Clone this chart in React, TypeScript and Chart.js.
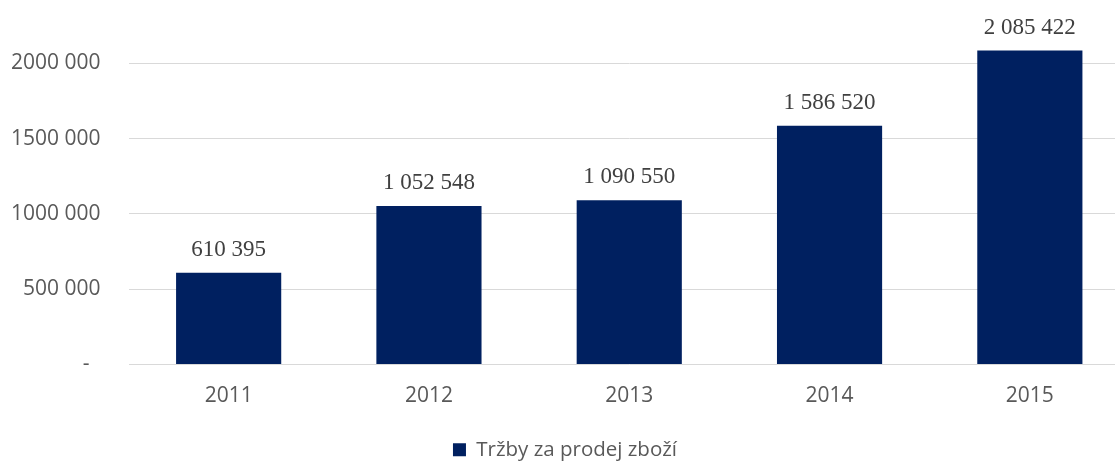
import { useEffect, useRef } from 'react';
import { Chart, registerables } from 'chart.js';

Chart.register(...registerables);

const categories = ['2011', '2012', '2013', '2014', '2015'];
const seriesName = 'Tržby za prodej zboží';
const salesValues = [610395, 1052548, 1090550, 1586520, 2085422];
const yTickValues = [0, 500000, 1000000, 1500000, 2000000];
const yTickLabels = ['-  ', '500 000', '1000 000', '1500 000', '2000 000'];

const fmt = (v: number) => String(v).replace(/\B(?=(\d{3})+(?!\d))/g, ' ');

const valueLabelsPlugin = {
  id: 'valueLabels',
  afterDatasetsDraw(chart: any) {
    const ctx = chart.ctx;
    const meta = chart.getDatasetMeta(0);
    ctx.save();
    ctx.font = '23px "Liberation Serif", "Times New Roman", serif';
    ctx.fillStyle = '#404040';
    ctx.textAlign = 'center';
    ctx.textBaseline = 'alphabetic';
    meta.data.forEach((bar: any, i: number) => {
      ctx.fillText(fmt(salesValues[i]), bar.x, bar.y - 17);
    });
    ctx.restore();
  },
};

export default function App() {
  const ref = useRef<HTMLCanvasElement | null>(null);
  useEffect(() => {
    if (!ref.current) return;
    const chart = new Chart(ref.current, {
      type: 'bar',
      data: {
        labels: categories,
        datasets: [
          {
            label: seriesName,
            data: salesValues,
            backgroundColor: '#002060',
            borderWidth: 0,
            categoryPercentage: 1,
            barPercentage: 0.525,
          },
        ],
      },
      options: {
        responsive: false,
        animation: false,
        devicePixelRatio: 1,
        layout: { padding: { top: 0, left: 0, right: 0, bottom: 0 } },
        plugins: {
          tooltip: { enabled: false },
          legend: {
            position: 'bottom',
            labels: {
              font: { family: '"Open Sans", sans-serif', size: 20.5 },
              color: '#595959',
              boxWidth: 13,
              boxHeight: 13,
              padding: 0,
            },
          },
        },
        scales: {
          x: {
            grid: { display: false },
            border: { display: false },
            afterFit: (scale: any) => {
              scale.height = 75;
            },
            ticks: {
              color: '#595959',
              font: { family: '"Open Sans", sans-serif', size: 21 },
              padding: 11,
            },
          },
          y: {
            min: 0,
            max: 2152000,
            afterBuildTicks: (scale: any) => {
              scale.ticks = yTickValues.map((v) => ({ value: v }));
            },
            afterFit: (scale: any) => {
              scale.width = 128.5;
            },
            grid: { color: '#d9d9d9', drawTicks: false, lineWidth: 1 },
            border: { display: false },
            ticks: {
              color: '#595959',
              font: { family: '"Open Sans", sans-serif', size: 21 },
              padding: 28,
              callback: (value: any) => yTickLabels[yTickValues.indexOf(Number(value))],
            },
          },
        },
      },
      plugins: [valueLabelsPlugin],
    });
    return () => chart.destroy();
  }, []);
  return (
    <div style={{ position: 'fixed', left: 0, top: 0, width: 1115, height: 461, overflow: 'hidden', background: '#fff' }}>
      <canvas ref={ref} width={1130} height={470} style={{ width: 1130, height: 470, display: 'block' }} />
    </div>
  );
}
